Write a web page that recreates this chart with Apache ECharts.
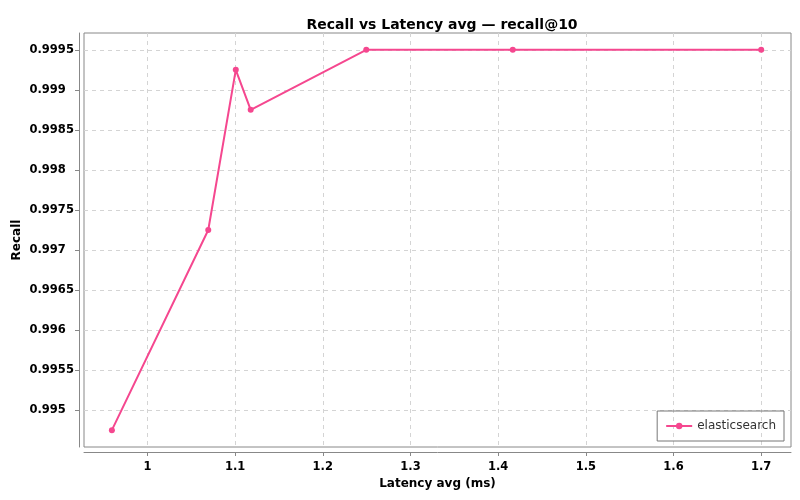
<!DOCTYPE html>
<html>
 <head>
  <meta charset="utf-8" />
  <title>Recall vs Latency</title>
  <script src="https://cdn.jsdelivr.net/npm/echarts@6/dist/echarts.min.js"></script>
  <style>
    html, body { margin: 0; padding: 0; background: #fff; }
  </style>
 </head>
 <body>
  <div id="main" style="width: 800px;height:500px;"></div>
  <script type="text/javascript">

    // data
    var latency = [0.9595, 1.0694, 1.1008, 1.1178, 1.2496, 1.4167, 1.7];
    var recall = [0.99475, 0.99725, 0.99925, 0.99875, 0.9995, 0.9995, 0.9995];
    var xTicks = [1, 1.1, 1.2, 1.3, 1.4, 1.5, 1.6, 1.7];
    var yTicks = [0.995, 0.9955, 0.996, 0.9965, 0.997, 0.9975, 0.998, 0.9985, 0.999, 0.9995];

    var points = latency.map(function (x, i) { return [x, recall[i]]; });

    var font = 'DejaVu Sans';
    var pink = '#f5478f';

    var myChart = echarts.init(document.getElementById('main'));

    myChart.setOption({
        animation: false,
        textStyle: { fontFamily: font },
        title: {
            text: 'Recall vs Latency avg \u2014 recall@10',
            left: 437,
            textAlign: 'center',
            top: 13,
            textStyle: { fontFamily: font, fontSize: 14, fontWeight: 'bold', color: '#000' }
        },
        legend: {
            data: ['elasticsearch'],
            right: 16,
            bottom: 59,
            orient: 'vertical',
            itemWidth: 26,
            itemHeight: 8,
            padding: [9, 8, 9, 8],
            borderColor: '#777',
            borderWidth: 1,
            borderRadius: 0,
            textStyle: { fontFamily: font, fontSize: 12, color: '#333' }
        },
        grid: {
            left: 84,
            right: 9,
            top: 33,
            bottom: 53,
            show: true,
            borderColor: '#888',
            borderWidth: 1,
            containLabel: false,
            outerBoundsMode: 'none'
        },
        xAxis: {
            type: 'value',
            min: 0.9277,
            max: 1.734,
            splitNumber: 8,
            offset: 5,
            name: 'Latency avg (ms)',
            nameLocation: 'middle',
            nameGap: 26,
            nameMoveOverlap: false,
            nameTextStyle: { fontFamily: font, fontSize: 12, fontWeight: 'bold', color: '#000' },
            axisLine: { show: true, lineStyle: { color: '#888', width: 1 } },
            axisTick: { show: true, length: 4, customValues: xTicks, lineStyle: { color: '#888' } },
            axisLabel: {
                customValues: xTicks,
                margin: 9,
                fontFamily: font, fontSize: 11.5, fontWeight: 'bold', color: '#000'
            },
            splitLine: { show: true, lineStyle: { color: '#d4d4d4', type: [4, 4], width: 1 } }
        },
        yAxis: {
            type: 'value',
            min: 0.99454,
            max: 0.99971,
            splitNumber: 10,
            offset: 5,
            name: 'Recall',
            nameLocation: 'middle',
            nameGap: 56,
            nameRotate: 90,
            nameMoveOverlap: false,
            nameTextStyle: { fontFamily: font, fontSize: 12, fontWeight: 'bold', color: '#000' },
            axisLine: { show: true, lineStyle: { color: '#888', width: 1 } },
            axisTick: { show: true, length: 4, customValues: yTicks, lineStyle: { color: '#888' } },
            axisLabel: {
                customValues: yTicks,
                align: 'left',
                margin: 49.5,
                fontFamily: font, fontSize: 11.5, fontWeight: 'bold', color: '#000'
            },
            splitLine: { show: true, lineStyle: { color: '#d4d4d4', type: [4, 4], width: 1 } }
        },
        series: [{
            name: 'elasticsearch',
            type: 'line',
            data: points,
            symbol: 'circle',
            symbolSize: 6,
            itemStyle: { color: pink },
            lineStyle: { color: pink, width: 2 }
        }]
    });
  </script>
 </body>
</html>
